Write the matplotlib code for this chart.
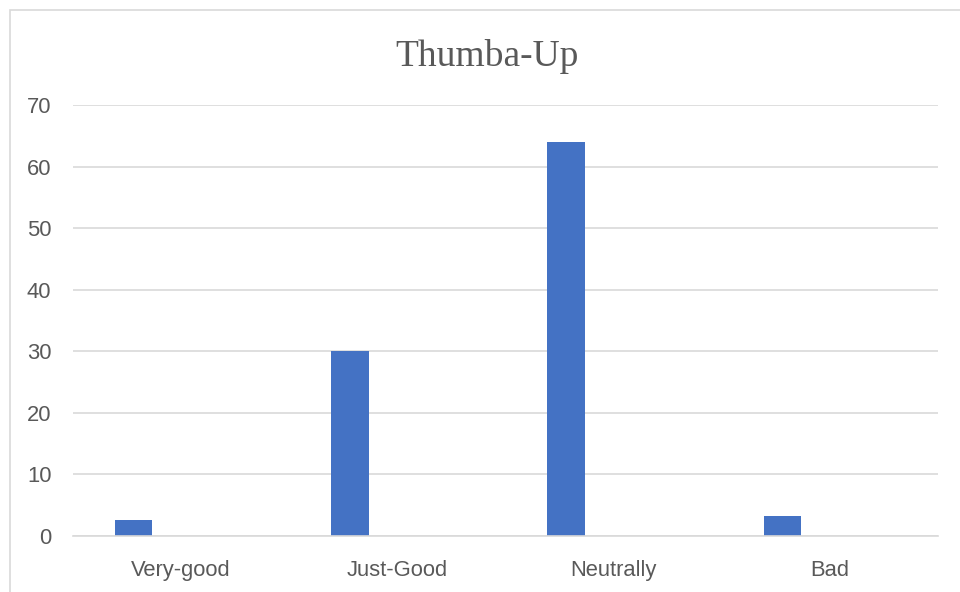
import matplotlib.pyplot as plt
from matplotlib.patches import Rectangle

categories = ['Very-good', 'Just-Good', 'Neutrally', 'Bad']
values = [2.6, 30, 64, 3.3]
y_ticks = [0, 10, 20, 30, 40, 50, 60, 70]

bar_color = '#4472C4'
grid_color = '#D9D9D9'
text_color = '#595959'

fig = plt.figure(figsize=(9.6, 5.92), dpi=100)
ax = fig.add_axes([73 / 960, 1 - 536 / 592, 865 / 960, (536 - 105) / 592])

# bars sit left of each category centre, like the first series of a cluster
x = range(len(categories))
ax.bar([i - 0.306 for i in x], values, width=0.1725, align='edge',
       color=bar_color, zorder=3)

ax.set_xlim(-0.5, len(categories) - 0.5)
ax.set_ylim(0, 70)
ax.set_yticks(y_ticks)
ax.set_xticks(list(x))
ax.set_xticklabels(categories)

ax.yaxis.grid(True, color=grid_color, linewidth=1.2, zorder=0)
for side in ['top', 'right', 'left']:
    ax.spines[side].set_visible(False)
ax.spines['bottom'].set_color(grid_color)
ax.spines['bottom'].set_linewidth(1.2)
ax.spines['bottom'].set_zorder(4)

ax.tick_params(axis='both', length=0, colors=text_color, labelsize=15.8)
ax.tick_params(axis='y', pad=15.5)
ax.tick_params(axis='x', pad=17)
for lbl in ax.get_xticklabels() + ax.get_yticklabels():
    lbl.set_fontfamily('Liberation Sans')

fig.text(487 / 960, 1 - 66 / 592, 'Thumba-Up', ha='center', va='baseline',
         fontsize=27, color=text_color, family='Liberation Serif')

# chart area frame
fig.patches.append(Rectangle((9.5 / 960, -0.05), 1.0, 1 - 10 / 592 + 0.05,
                             transform=fig.transFigure, fill=False,
                             edgecolor=grid_color, linewidth=1.2))

fig.savefig('out.png', dpi=100)
